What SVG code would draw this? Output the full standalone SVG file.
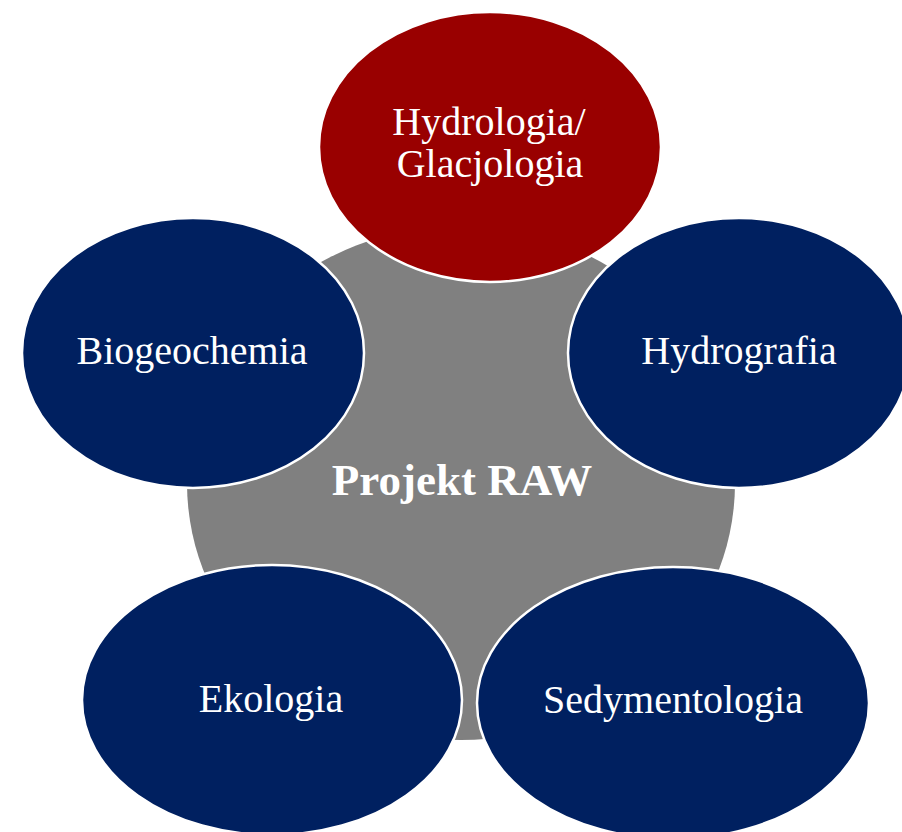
<svg xmlns="http://www.w3.org/2000/svg" width="902" height="832" viewBox="0 0 902 832">
<style>
.hub{fill:#808080;}
.node{stroke:#ffffff;stroke-width:2.5;}
.blue{fill:#002060;}
.red{fill:#990000;}
.lbl{font-family:"Liberation Serif","Times New Roman",serif;font-size:40px;fill:#ffffff;text-anchor:middle;}
.hubl{font-family:"Liberation Serif","Times New Roman",serif;font-size:45px;font-weight:bold;fill:#ffffff;text-anchor:middle;}
</style>
<rect width="902" height="832" fill="#ffffff"/>
<g id="hub">
<ellipse class="hub" cx="461" cy="483" rx="274" ry="257"/>
</g>
<g id="connectors"></g>
<g id="hydrologia">
<ellipse class="node red" cx="490" cy="147" rx="171" ry="135"/>
<text class="lbl" x="489" y="135">Hydrologia/</text>
<text class="lbl" x="490" y="177">Glacjologia</text>
</g>
<g id="biogeochemia">
<ellipse class="node blue" cx="193" cy="353" rx="171" ry="135"/>
<text class="lbl" x="192" y="364">Biogeochemia</text>
</g>
<g id="hydrografia">
<ellipse class="node blue" cx="739" cy="353" rx="171" ry="135"/>
<text class="lbl" x="739" y="364">Hydrografia</text>
</g>
<g id="ekologia">
<ellipse class="node blue" cx="272" cy="700" rx="190" ry="135"/>
<text class="lbl" x="271" y="712">Ekologia</text>
</g>
<g id="sedymentologia">
<ellipse class="node blue" cx="673" cy="703" rx="196" ry="136"/>
<text class="lbl" x="673" y="713">Sedymentologia</text>
</g>
<g id="hub-label">
<text class="hubl" x="462" y="495">Projekt RAW</text>
</g>
</svg>
